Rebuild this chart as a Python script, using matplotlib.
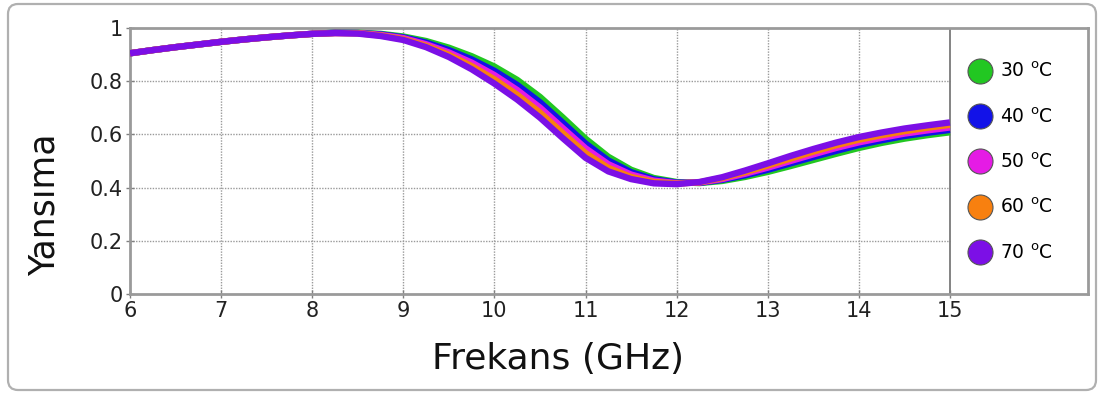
import matplotlib
matplotlib.use('Agg')
import matplotlib.pyplot as plt
from matplotlib.lines import Line2D
from matplotlib.patches import FancyBboxPatch
from matplotlib.transforms import IdentityTransform

# frequency axis (GHz), shared by every temperature curve
freq = [6.00, 6.25, 6.50, 6.75, 7.00, 7.25, 7.50, 7.75, 8.00, 8.25, 8.50, 8.75,
        9.00, 9.25, 9.50, 9.75, 10.00, 10.25, 10.50, 10.75, 11.00, 11.25, 11.50,
        11.75, 12.00, 12.25, 12.50, 12.75, 13.00, 13.25, 13.50, 13.75, 14.00,
        14.25, 14.50, 14.75, 15.00]

refl_30 = [0.905, 0.917, 0.928, 0.938, 0.948, 0.957, 0.965, 0.972, 0.978, 0.982, 0.982, 0.978,
           0.968, 0.951, 0.926, 0.894, 0.855, 0.805, 0.741, 0.664, 0.584, 0.516, 0.467,
           0.436, 0.421, 0.417, 0.425, 0.440, 0.459, 0.481, 0.504, 0.527, 0.549,
           0.568, 0.584, 0.597, 0.608]
refl_40 = [0.905, 0.917, 0.928, 0.938, 0.948, 0.957, 0.965, 0.972, 0.978, 0.982, 0.981, 0.976,
           0.965, 0.945, 0.917, 0.882, 0.839, 0.786, 0.721, 0.644, 0.566, 0.502, 0.458,
           0.431, 0.419, 0.418, 0.429, 0.446, 0.467, 0.491, 0.515, 0.538, 0.560,
           0.578, 0.594, 0.606, 0.617]
refl_50 = [0.905, 0.917, 0.928, 0.938, 0.948, 0.957, 0.965, 0.972, 0.978, 0.981, 0.981, 0.974,
           0.962, 0.939, 0.908, 0.870, 0.823, 0.767, 0.701, 0.624, 0.548, 0.488, 0.449,
           0.426, 0.417, 0.419, 0.432, 0.452, 0.475, 0.500, 0.525, 0.549, 0.570,
           0.587, 0.603, 0.615, 0.626]
refl_60 = [0.905, 0.917, 0.928, 0.938, 0.948, 0.957, 0.965, 0.972, 0.978, 0.981, 0.980, 0.972,
           0.958, 0.933, 0.899, 0.857, 0.807, 0.749, 0.682, 0.605, 0.530, 0.474, 0.440,
           0.421, 0.415, 0.420, 0.436, 0.458, 0.483, 0.509, 0.535, 0.559, 0.580,
           0.597, 0.612, 0.625, 0.636]
refl_70 = [0.905, 0.917, 0.928, 0.938, 0.948, 0.957, 0.965, 0.972, 0.978, 0.981, 0.979, 0.970,
           0.955, 0.928, 0.891, 0.845, 0.791, 0.731, 0.663, 0.586, 0.512, 0.461, 0.432,
           0.416, 0.413, 0.421, 0.439, 0.464, 0.491, 0.519, 0.545, 0.569, 0.590,
           0.607, 0.622, 0.634, 0.645]

temps = [30, 40, 50, 60, 70]
series = [refl_30, refl_40, refl_50, refl_60, refl_70]
colors = ['#22c722', '#1212e8', '#e51be5', '#f8800f', '#7c0fe6']

xticks = [6, 7, 8, 9, 10, 11, 12, 13, 14, 15]
yticks = [0, 0.2, 0.4, 0.6, 0.8, 1.0]
ytick_labels = ['0', '0.2', '0.4', '0.6', '0.8', '1']

plt.rcParams['font.family'] = 'DejaVu Sans'

fig = plt.figure(figsize=(10.99, 3.94), dpi=100)
ax = fig.add_axes([130 / 1099, 100 / 394, 958 / 1099, 266 / 394])

# rounded panel border around the whole chart
panel = FancyBboxPatch((8, 4), 1088, 386, boxstyle='round,pad=0,rounding_size=10',
                       transform=IdentityTransform(), facecolor='white',
                       edgecolor='#b0b0b0', linewidth=1.6, zorder=-5)
fig.patches.append(panel)

ax.set_xlim(6, 6 + 958 / 91.1)
ax.set_ylim(0, 1)

# dotted grid limited to the plotting region (left of the legend)
for xv in xticks[1:-1]:
    ax.plot([xv, xv], [0, 1], color='#9a9a9a', linestyle=(0, (1, 1)), linewidth=1.0, zorder=1)
for yv in yticks[1:-1]:
    ax.plot([6, 15], [yv, yv], color='#9a9a9a', linestyle=(0, (1, 1)), linewidth=1.0, zorder=1)
ax.plot([15, 15], [0, 1], color='#7a7a7a', linewidth=1.3, zorder=1)

for t, vals, c in zip(temps, series, colors):
    ax.plot(freq, vals, color=c, linewidth=4.6, solid_capstyle='butt',
            solid_joinstyle='round', zorder=3)

for side in ['left', 'bottom', 'top', 'right']:
    ax.spines[side].set_color('#9a9a9a')
    ax.spines[side].set_linewidth(2)

ax.set_xticks(xticks)
ax.set_yticks(yticks)
ax.set_yticklabels(ytick_labels)
ax.tick_params(axis='both', direction='inout', length=6, width=1, color='#808080',
               labelsize=15, labelcolor='#222222', pad=2)

ax.set_xlabel('Frekans (GHz)', fontsize=26, color='#111111')
ax.xaxis.set_label_coords(0.447, -0.18)
ax.set_ylabel('Yansıma', fontsize=25, color='#111111')
ax.yaxis.set_label_coords(-0.089, 0.335)
ax.yaxis.label.set_va('center')

handles = [Line2D([], [], linestyle='none', marker='o', markersize=18,
                  markerfacecolor=c, markeredgecolor='#555555', markeredgewidth=0.8)
           for c in colors]
labels = [r'%d $^{\mathrm{o}}$C' % t for t in temps]
ax.legend(handles, labels, loc='upper left', bbox_to_anchor=(0.876, 0.872),
          frameon=False, fontsize=13.5, labelspacing=1.38, handletextpad=0.45,
          borderpad=0, borderaxespad=0, handlelength=1.2)

fig.savefig('out.png', dpi=100)
